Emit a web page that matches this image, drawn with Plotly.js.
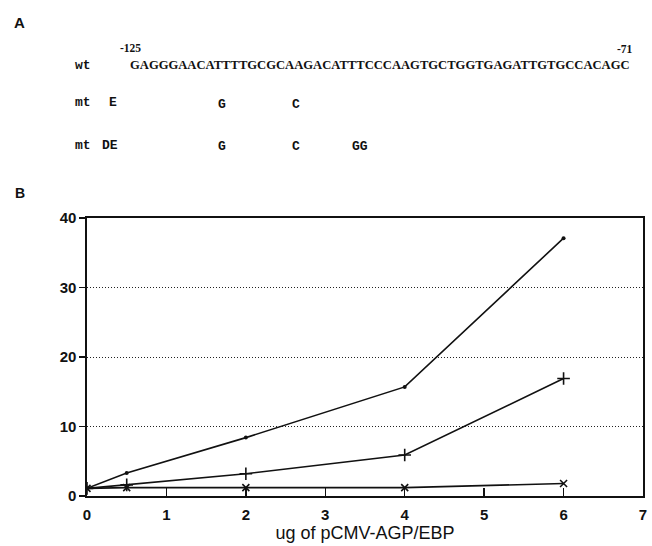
<!DOCTYPE html>
<html>
<head>
<meta charset="utf-8">
<script src="https://cdn.plot.ly/plotly-3.0.1.min.js"></script>
<style>html,body{margin:0;padding:0;background:#fff;}#chart{width:652px;height:546px;}</style>
</head>
<body>
<div id="chart"></div>
<script>
// ---- data ----
var doseUg = [0, 0.5, 2, 4, 6];
var wtValues = [1.1, 3.3, 8.4, 15.7, 37.1];
var mtEValues = [1.1, 1.6, 3.2, 5.9, 16.9];
var mtDEValues = [1.1, 1.2, 1.2, 1.2, 1.8];
var yTicks = [0, 10, 20, 30, 40];
var xTicks = [0, 1, 2, 3, 4, 5, 6, 7];
var xTitle = "ug of pCMV-AGP/EBP";
var wtSequence = "GAGGGAACATTTTGCGCAAGACATTTCCCAAGTGCTGGTGAGATTGTGCCACAGC";

// ---- layout helpers ----
var W = 652, H = 546;
var M = {l: 87, r: 9, t: 218, b: 50};
var pw = W - M.l - M.r, ph = H - M.t - M.b;
function px(x) { return (x - M.l) / pw; }
function py(y) { return (H - M.b - y) / ph; }

var seqFont = {family: "Liberation Serif", size: 12.6, color: "#111", weight: "bold"};
var monoFont = {family: "Liberation Mono", size: 13, color: "#111", weight: "bold"};

function ann(text, x, y, font, xanchor) {
  return {text: text, xref: "paper", yref: "paper", x: px(x), y: py(y),
          xanchor: xanchor || "center", yanchor: "middle", showarrow: false, font: font};
}

var annotations = [
  ann("A", 19, 23, {family: "Liberation Sans", size: 15, color: "#111", weight: "bold"}),
  ann("B", 20, 193, {family: "Liberation Sans", size: 14, color: "#111", weight: "bold"}),
  ann("-125", 130, 48, {family: "Liberation Serif", size: 11.5, color: "#111", weight: "bold"}),
  ann("-71", 625, 49, {family: "Liberation Serif", size: 11.5, color: "#111", weight: "bold"}),
  ann("wt", 73, 65, monoFont, "left"),
  ann(wtSequence, 128, 65, seqFont, "left"),
  ann("mt", 73, 103, monoFont, "left"),
  ann("E", 113, 103, monoFont),
  ann("G", 222, 104, monoFont),
  ann("C", 296, 104, monoFont),
  ann("mt", 73, 145, monoFont, "left"),
  ann("DE", 100, 145, monoFont, "left"),
  ann("G", 222, 146, monoFont),
  ann("C", 296, 146, monoFont),
  ann("GG", 350, 146, monoFont, "left")
];

var lineStyle = {color: "#111", width: 1.6};
var traces = [
  {x: doseUg, y: wtValues, mode: "lines+markers", line: lineStyle,
   marker: {symbol: "circle", size: 4, color: "#111"}, name: "wt"},
  {x: doseUg, y: mtEValues, mode: "lines+markers", line: lineStyle,
   marker: {symbol: "cross-thin", size: 9, line: {color: "#111", width: 1.6}}, name: "mt E"},
  {x: doseUg, y: mtDEValues, mode: "lines+markers", line: lineStyle,
   marker: {symbol: "x-thin", size: 7, line: {color: "#111", width: 1.6}}, name: "mt DE"}
];

var tickFont = {family: "Liberation Sans", size: 15, color: "#111", weight: "bold"};

var layout = {
  width: W, height: H,
  margin: M,
  paper_bgcolor: "#fff", plot_bgcolor: "#fff",
  showlegend: false,
  font: {family: "Liberation Sans", color: "#111"},
  xaxis: {
    range: [0, 7], tickvals: xTicks,
    ticks: "inside", ticklen: 8, tickwidth: 1.3, tickcolor: "#111",
    showline: true, linecolor: "#111", linewidth: 1.6, mirror: true,
    showgrid: false, zeroline: false,
    tickfont: tickFont, ticklabelstandoff: 4,
    title: {text: xTitle, font: {family: "Liberation Sans", size: 18, color: "#111"}, standoff: 5},
    automargin: false
  },
  yaxis: {
    range: [0, 40], tickvals: yTicks,
    ticks: "outside", ticklen: 6, tickwidth: 1.3, tickcolor: "#111",
    showline: true, linecolor: "#111", linewidth: 1.6, mirror: true,
    showgrid: true, gridcolor: "#222", gridwidth: 1, griddash: "1px,2px",
    zeroline: false,
    tickfont: tickFont,
    automargin: false
  },
  annotations: annotations
};

Plotly.newPlot("chart", traces, layout, {displayModeBar: false, staticPlot: true});
</script>
</body>
</html>
